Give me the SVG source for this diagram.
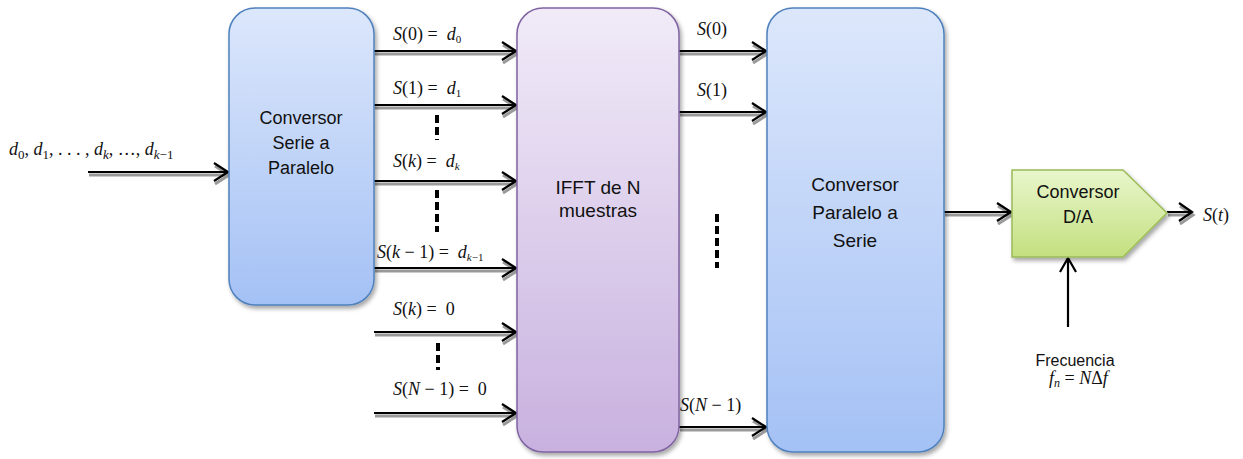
<svg xmlns="http://www.w3.org/2000/svg" width="1243" height="459" viewBox="0 0 1243 459">
<defs>
<linearGradient id="gb" x1="0" y1="0" x2="0" y2="1"><stop offset="0" stop-color="#dce7fb"/><stop offset="1" stop-color="#a4c1f5"/></linearGradient>
<linearGradient id="gp" x1="0" y1="0" x2="0" y2="1"><stop offset="0" stop-color="#f1ebf8"/><stop offset="1" stop-color="#c8b1df"/></linearGradient>
<linearGradient id="gg" x1="0" y1="0" x2="0" y2="1"><stop offset="0" stop-color="#e9f6cc"/><stop offset="1" stop-color="#c3e07f"/></linearGradient>
<filter id="sh" x="-10%" y="-10%" width="130%" height="130%"><feDropShadow dx="2" dy="3" stdDeviation="2" flood-color="#000" flood-opacity="0.35"/></filter>
</defs>
<style>
.t{font-family:"Liberation Sans",Arial,sans-serif;fill:#111;text-anchor:middle}
.m{font-family:"Liberation Serif","Times New Roman",serif;fill:#111;font-size:18px;white-space:pre}
.i{font-style:italic}
.a{fill:none;stroke:#000;stroke-width:2.2}
.s{fill:none;stroke:#9a9a9a;stroke-width:3}
.d{stroke:#000;stroke-width:4;stroke-dasharray:8,4}
</style>
<g id="conectores">
<g transform="translate(1,3)" class="s">
<path d="M88 172H228M214 163L228 172L214 181"/>
<path d="M374 51H516M502 42L516 51L502 60"/>
<path d="M374 105H516M502 96L516 105L502 114"/>
<path d="M374 181H516M502 172L516 181L502 190"/>
<path d="M374 268H516M502 259L516 268L502 277"/>
<path d="M374 332H516M502 323L516 332L502 341"/>
<path d="M374 413H516M502 404L516 413L502 422"/>
<path d="M679 51H766M752 42L766 51L752 60"/>
<path d="M679 112H766M752 103L766 112L752 121"/>
<path d="M679 427H766M752 418L766 427L752 436"/>
<path d="M944 212H1011M997 203L1011 212L997 221"/>
<path d="M1167 212H1192M1179 203L1192 212L1179 221"/>
</g>
<g class="a">
<path d="M88 172H228M214 163L228 172L214 181"/>
<path d="M374 51H516M502 42L516 51L502 60"/>
<path d="M374 105H516M502 96L516 105L502 114"/>
<path d="M374 181H516M502 172L516 181L502 190"/>
<path d="M374 268H516M502 259L516 268L502 277"/>
<path d="M374 332H516M502 323L516 332L502 341"/>
<path d="M374 413H516M502 404L516 413L502 422"/>
<path d="M679 51H766M752 42L766 51L752 60"/>
<path d="M679 112H766M752 103L766 112L752 121"/>
<path d="M679 427H766M752 418L766 427L752 436"/>
<path d="M944 212H1011M997 203L1011 212L997 221"/>
<path d="M1167 212H1192M1179 203L1192 212L1179 221"/>
<path d="M1068 327V258M1060 272L1068 258L1076 272"/>
</g>
<line class="d" x1="437" y1="115" x2="437" y2="140"/>
<line class="d" x1="437" y1="190" x2="437" y2="232"/>
<line class="d" x1="438" y1="343" x2="438" y2="370"/>
<line class="d" x1="717" y1="214" x2="717" y2="268"/>
</g>
<g id="sp">
<rect x="229" y="8" width="145" height="297" rx="26" fill="url(#gb)" stroke="#4f81bd" stroke-width="1.5" filter="url(#sh)"/>
<text class="t" font-size="18" x="301" y="124">Conversor</text>
<text class="t" font-size="18" x="301" y="149">Serie a</text>
<text class="t" font-size="18" x="301" y="174">Paralelo</text>
</g>
<g id="ifft">
<rect x="517" y="8" width="162" height="444" rx="26" fill="url(#gp)" stroke="#8064a2" stroke-width="1.5" filter="url(#sh)"/>
<text class="t" font-size="19" x="598" y="194">IFFT de N</text>
<text class="t" font-size="19" x="598" y="217">muestras</text>
</g>
<g id="ps">
<rect x="767" y="8" width="177" height="444" rx="26" fill="url(#gb)" stroke="#4f81bd" stroke-width="1.5" filter="url(#sh)"/>
<text class="t" font-size="19" x="855" y="191">Conversor</text>
<text class="t" font-size="19" x="855" y="219">Paralelo a</text>
<text class="t" font-size="19" x="855" y="247">Serie</text>
</g>
<g id="da">
<path d="M1012 170H1123L1167 213L1123 257H1012Z" fill="url(#gg)" stroke="#9bbb59" stroke-width="1.5" filter="url(#sh)"/>
<text class="t" font-size="18" x="1078" y="198">Conversor</text>
<text class="t" font-size="18" x="1078" y="223">D/A</text>
</g>
<g id="etiquetas">
<text class="m" x="9" y="155" font-size="19"><tspan class="i">d</tspan><tspan font-size="13" dy="4">0</tspan><tspan dy="-4">, </tspan><tspan class="i">d</tspan><tspan font-size="13" dy="4">1</tspan><tspan dy="-4">, . . . , </tspan><tspan class="i">d</tspan><tspan font-size="13" dy="4" class="i">k</tspan><tspan dy="-4">, …, </tspan><tspan class="i">d</tspan><tspan font-size="13" dy="4"><tspan class="i">k</tspan>−1</tspan></text>
<text class="m" x="393" y="40"><tspan class="i">S</tspan>(0) =  <tspan class="i">d</tspan><tspan font-size="11" dy="3">0</tspan></text>
<text class="m" x="393" y="94"><tspan class="i">S</tspan>(1) =  <tspan class="i">d</tspan><tspan font-size="11" dy="3">1</tspan></text>
<text class="m" x="393" y="167"><tspan class="i">S</tspan>(<tspan class="i">k</tspan>) =  <tspan class="i">d</tspan><tspan font-size="11" dy="3" class="i">k</tspan></text>
<text class="m" x="377" y="258"><tspan class="i">S</tspan>(<tspan class="i">k</tspan> − 1) =  <tspan class="i">d</tspan><tspan font-size="11" dy="3"><tspan class="i">k</tspan>−1</tspan></text>
<text class="m" x="393" y="315"><tspan class="i">S</tspan>(<tspan class="i">k</tspan>) =  0</text>
<text class="m" x="393" y="395"><tspan class="i">S</tspan>(<tspan class="i">N</tspan> − 1) =  0</text>
<text class="m" x="697" y="35"><tspan class="i">S</tspan>(0)</text>
<text class="m" x="697" y="96"><tspan class="i">S</tspan>(1)</text>
<text class="m" x="680" y="411"><tspan class="i">S</tspan>(<tspan class="i">N</tspan> − 1)</text>
<text class="m" x="1203" y="221"><tspan class="i">S</tspan>(<tspan class="i">t</tspan>)</text>
<text class="t" font-size="16" x="1075" y="366">Frecuencia</text>
<text class="m" x="1049" y="384"><tspan class="i">f</tspan><tspan font-size="12" dy="3" class="i">n</tspan><tspan dy="-3"> = </tspan><tspan class="i">N</tspan>Δ<tspan class="i">f</tspan></text>
</g>
</svg>
